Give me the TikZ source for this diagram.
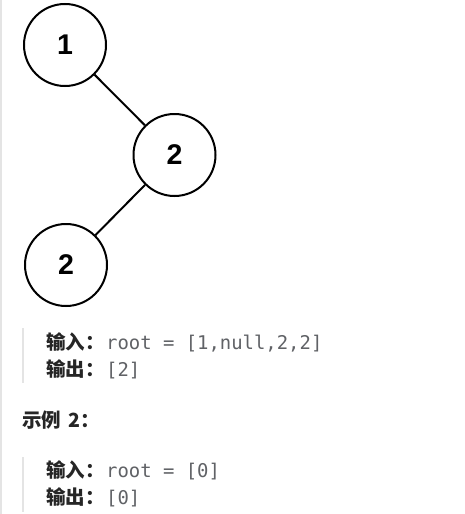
\documentclass[tikz,border=0pt]{standalone}
\usepackage{fontspec}
\newfontfamily\cjk{Noto Sans CJK SC}
\newfontfamily\numfont{Liberation Sans}
\newfontfamily\monofont{DejaVu Sans Mono}
\definecolor{barcol}{RGB}{228,228,228}
\definecolor{monocol}{RGB}{96,98,102}
\definecolor{txtcol}{RGB}{38,38,38}
\begin{document}
\begin{tikzpicture}[x=1pt,y=-1pt,
  treenode/.style={circle,draw=black,line width=2pt,minimum size=82pt,inner sep=0pt,
    font=\numfont\bfseries\fontsize{28.5}{30}\selectfont},
  edge/.style={line width=2pt,black},
  label/.style={anchor=base west,inner sep=0pt,text=txtcol,font=\cjk\bfseries\fontsize{19.5}{22}\selectfont},
  code/.style={anchor=base west,inner sep=0pt,text=monocol,font=\monofont\fontsize{18.9}{22}\selectfont},
  bar/.style={barcol,line width=2.5pt}]
\useasboundingbox[fill=white] (0,0) rectangle (464,514);
\draw[barcol,line width=1.5pt] (0.75,0) -- (0.75,514);
\node[treenode] (n1) at (65,45) {1};
\node[treenode] (n2) at (174.5,155) {2};
\node[treenode] (n3) at (66,265) {2};
\draw[edge] (n1) -- (n2);
\draw[edge] (n2) -- (n3);
\coordinate (b1t) at (23,328);
\coordinate (b1b) at (23,383);
\draw[bar] (b1t) -- (b1b);
\node[label] (l1) at (46,349) {输入：};
\node[code] (c1) at (106,349) {root = [1,null,2,2]};
\node[label] (l2) at (46,376) {输出：};
\node[code] (c2) at (106,376) {[2]};
\node[label] (h2) at (22,427) {示例\hspace{7pt}2：};
\coordinate (b2t) at (23,457);
\coordinate (b2b) at (23,512);
\draw[bar] (b2t) -- (b2b);
\node[label] (l3) at (46,477) {输入：};
\node[code] (c3) at (106,477) {root = [0]};
\node[label] (l4) at (46,504) {输出：};
\node[code] (c4) at (106,504) {[0]};
\end{tikzpicture}
\end{document}
